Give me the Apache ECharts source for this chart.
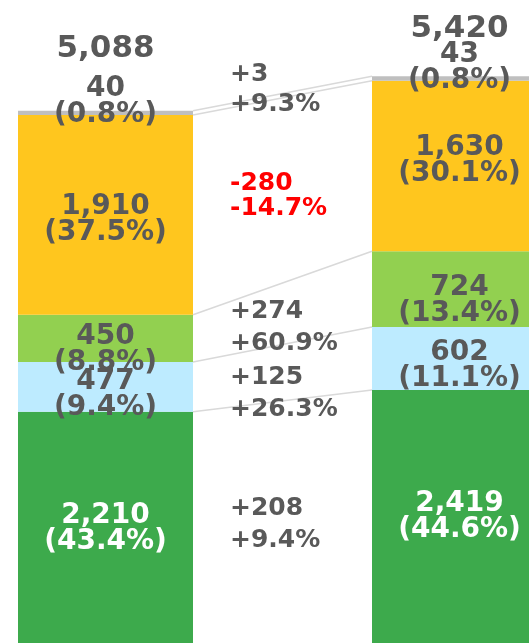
<!DOCTYPE html>
<html>
<head>
<meta charset="utf-8">
<script src="https://cdn.jsdelivr.net/npm/echarts@6/dist/echarts.min.js"></script>
<style>
  html, body { margin: 0; padding: 0; background: #fff; }
  #main { width: 529px; height: 643px; }
</style>
</head>
<body>
<div id="main"></div>
<script>
// two periods, stacked from bottom to top
var categories = ['A', 'B'];
var green = [2210, 2419];
var lightBlue = [477, 602];
var lime = [450, 724];
var yellow = [1910, 1630];
var gray = [40, 43];
var totals = [5088, 5420];

var greenPct = ['43.4%', '44.6%'];
var lightBluePct = ['9.4%', '11.1%'];
var limePct = ['8.8%', '13.4%'];
var yellowPct = ['37.5%', '30.1%'];
var grayPct = ['0.8%', '0.8%'];

// change labels, same order as the stack (bottom to top)
var diffValues = ['+208', '+125', '+274', '-280', '+3'];
var diffPcts = ['+9.4%', '+26.3%', '+60.9%', '-14.7%', '+9.3%'];

var chart = echarts.init(document.getElementById('main'));

var FONT = 'DejaVu Sans';
var TEXT_GRAY = '#595959';
var BAR_W = 175;

var stackList = [green, lightBlue, lime, yellow, gray];
var pctList = [greenPct, lightBluePct, limePct, yellowPct, grayPct];
var colors = ['#3DAA4C', '#BDEBFF', '#92D050', '#FFC61E', '#BFBFBF'];
var labelColors = ['#fff', TEXT_GRAY, TEXT_GRAY, TEXT_GRAY, TEXT_GRAY];
// small label nudges [left bar, right bar]
var labelNudge = [[1, 0.5], [8, 7], [11, 12], [5, -5.5], [-11, -10.5]];
var totalNudge = [-62, -47];
var diffNudge = [2.5, 21, 13.5, 5.5, -6.5];
var diffLineH = [32, 32, 32, 25, 30];

// cumulative tops
function cumAt(level, idx) {
  var s = 0;
  for (var k = 0; k <= level; k++) s += stackList[k][idx];
  return s;
}

var series = stackList.map(function (vals, si) {
  return {
    type: 'bar',
    stack: 'all',
    clip: false,
    barWidth: BAR_W,
    itemStyle: { color: colors[si] },
    data: vals.map(function (v, i) {
      return {
        value: v,
        label: {
          show: true,
          position: 'inside',
          offset: [0, labelNudge[si][i]],
          formatter: echarts.format.addCommas(v) + '\n(' + pctList[si][i] + ')',
          color: labelColors[si],
          fontFamily: FONT,
          fontWeight: 'bold',
          fontSize: 28,
          lineHeight: 26
        }
      };
    }),
    z: 3
  };
});

// totals above bars
series.push({
  type: 'scatter',
  symbolSize: 1,
  silent: true,
  clip: false,
  itemStyle: { color: 'rgba(0,0,0,0)', opacity: 1 },
  data: totals.map(function (t, i) {
    return {
      value: [i, t],
      label: {
        show: true,
        position: 'inside',
        offset: [0, totalNudge[i]],
        formatter: echarts.format.addCommas(t),
        color: TEXT_GRAY,
        fontFamily: FONT,
        fontWeight: 'bold',
        fontSize: 31
      }
    };
  }),
  z: 5
});

// connector lines between segment boundaries
var boundaries = [];
for (var lv = 0; lv < stackList.length; lv++) {
  boundaries.push([0, cumAt(lv, 0), cumAt(lv, 1)]);
}
series.push({
  type: 'custom',
  silent: true,
  clip: false,
  data: boundaries,
  encode: { x: 0, y: 1 },
  renderItem: function (params, api) {
    var p0 = api.coord([0, api.value(1)]);
    var p1 = api.coord([1, api.value(2)]);
    return {
      type: 'line',
      shape: { x1: p0[0] + BAR_W / 2, y1: p0[1], x2: p1[0] - BAR_W / 2, y2: p1[1] },
      style: { stroke: '#D9D9D9', lineWidth: 1.5 }
    };
  },
  z: 2
});

// change annotations in the gap
var diffData = [];
for (var d = 0; d < stackList.length; d++) diffData.push([0, cumAt(d, 0), d]);
series.push({
  type: 'custom',
  silent: true,
  clip: false,
  data: diffData,
  encode: { x: 0, y: 1 },
  renderItem: function (params, api) {
    var lvl = api.value(2);
    var lo0 = lvl === 0 ? 0 : cumAt(lvl - 1, 0);
    var lo1 = lvl === 0 ? 0 : cumAt(lvl - 1, 1);
    var a0 = api.coord([0, lo0]), b0 = api.coord([0, cumAt(lvl, 0)]);
    var a1 = api.coord([1, lo1]), b1 = api.coord([1, cumAt(lvl, 1)]);
    var midY = ((a0[1] + b0[1]) / 2 + (a1[1] + b1[1]) / 2) / 2;
    var neg = diffValues[lvl].charAt(0) === '-';
    return {
      type: 'text',
      style: {
        x: a0[0] + BAR_W / 2 + 37,
        y: midY + diffNudge[lvl],
        text: diffValues[lvl] + '\n' + diffPcts[lvl],
        fill: neg ? '#FF0000' : TEXT_GRAY,
        fontFamily: FONT,
        fontWeight: 'bold',
        fontSize: 25,
        lineHeight: diffLineH[lvl],
        align: 'left',
        verticalAlign: 'middle'
      }
    };
  },
  z: 6
});

var option = {
  animation: false,
  // bar centres at x=105.5 and x=459.5
  grid: { left: 105.5, right: 69.5, top: 76, height: 571, containLabel: false },
  xAxis: {
    type: 'category',
    data: categories,
    boundaryGap: false,
    show: false
  },
  yAxis: {
    type: 'value',
    min: 0,
    max: 5420,
    show: false,
    splitLine: { show: false }
  },
  series: series
};
chart.setOption(option);
</script>
</body>
</html>
